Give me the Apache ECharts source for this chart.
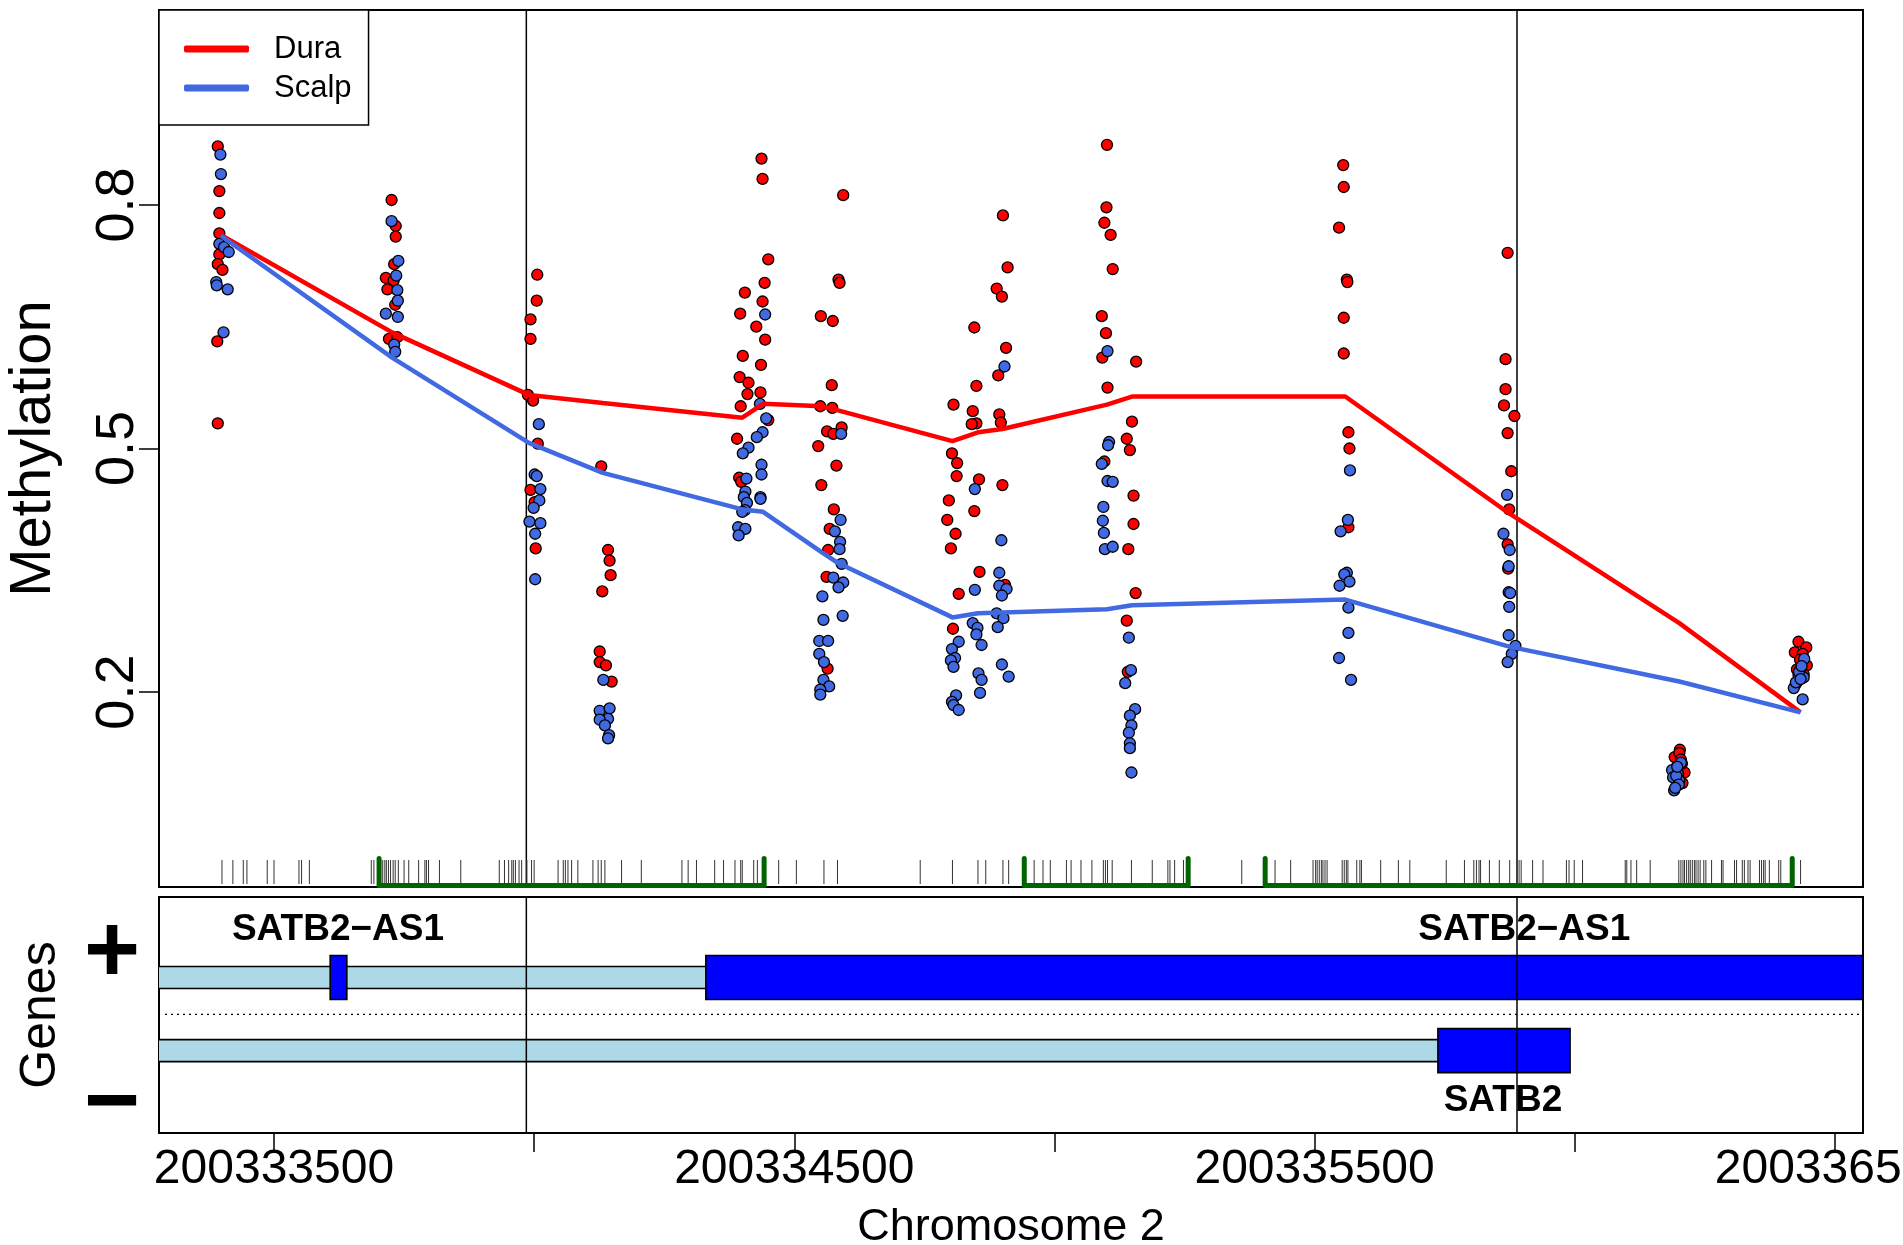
<!DOCTYPE html>
<html><head><meta charset="utf-8">
<script src="https://cdn.jsdelivr.net/npm/echarts@6/dist/echarts.min.js"></script>
<style>html,body{margin:0;padding:0;background:#fff}#c{width:1903px;height:1245px}</style>
</head><body><div id="c"></div>
<script>
// ---------------- data ----------------
const X_MIN = 200333279, X_MAX = 200336554;
const xTickValues = [200333500, 200334000, 200334500, 200335000, 200335500, 200336000, 200336500];
const xLabelValues = [200333500, 200334500, 200335500, 200336500];
const yTickValues = [0.2, 0.5, 0.8];

// CpG positions carrying the smoothed lines
const cpgPositions = [200333398, 200333727, 200333990, 200334132, 200334400, 200334440, 200334553, 200334584,
  200334804, 200334853, 200334900, 200335101, 200335149, 200335559, 200335874, 200336201, 200336434];
const duraSmooth  = [0.763, 0.643, 0.566, 0.556, 0.538, 0.555, 0.552, 0.547, 0.509, 0.520, 0.524, 0.554, 0.564, 0.564, 0.420, 0.285, 0.175];
const scalpSmooth = [0.762, 0.612, 0.507, 0.470, 0.425, 0.422, 0.372, 0.359, 0.292, 0.297, 0.298, 0.302, 0.307, 0.314, 0.256, 0.213, 0.175];

// individual samples [position, methylation]
const duraPoints = [
 [200333392,0.872],[200333395,0.817],[200333395,0.790],[200333395,0.765],[200333395,0.739],[200333392,0.727],[200333401,0.720],[200333391,0.632],[200333392,0.531],
 [200333726,0.806],[200333734,0.774],[200333734,0.761],[200333731,0.727],[200333715,0.710],[200333730,0.707],[200333718,0.696],[200333733,0.677],[200333721,0.635],[200333737,0.637],
 [200334006,0.714],[200334005,0.682],[200333993,0.659],[200333993,0.635],[200333988,0.566],[200333998,0.559],[200334007,0.506],[200333993,0.449],[200334001,0.434],[200334003,0.377],
 [200334129,0.478],[200334142,0.375],[200334145,0.362],[200334147,0.344],[200334131,0.324],[200334126,0.250],[200334126,0.237],[200334138,0.233],[200334149,0.213],
 [200334405,0.692],[200334396,0.666],[200334401,0.614],[200334395,0.588],[200334412,0.581],[200334410,0.567],[200334397,0.552],[200334390,0.512],[200334394,0.464],[200334398,0.459],
 [200334437,0.857],[200334439,0.832],[200334450,0.733],[200334443,0.704],[200334439,0.681],[200334427,0.650],[200334444,0.634],[200334436,0.603],[200334435,0.569],[200334450,0.535],
 [200334551,0.663],[200334550,0.552],[200334563,0.521],[200334546,0.503],[200334552,0.455],[200334568,0.401],[200334565,0.375],[200334562,0.342],[200334564,0.229],
 [200334594,0.812],[200334585,0.708],[200334587,0.704],[200334574,0.657],[200334572,0.578],[200334573,0.550],[200334575,0.518],[200334591,0.526],[200334581,0.479],[200334576,0.425],
 [200334806,0.554],[200334803,0.494],[200334813,0.482],[200334812,0.466],[200334797,0.436],[200334794,0.412],[200334810,0.395],[200334801,0.377],[200334816,0.321],[200334805,0.278],
 [200334846,0.649],[200334850,0.577],[200334843,0.546],[200334850,0.531],[200334841,0.530],[200334855,0.462],[200334846,0.423],[200334856,0.348],
 [200334901,0.787],[200334910,0.723],[200334889,0.697],[200334899,0.687],[200334907,0.624],[200334892,0.590],[200334894,0.542],[200334897,0.532],[200334900,0.455],[200334905,0.332],
 [200335101,0.874],[200335100,0.797],[200335096,0.778],[200335108,0.763],[200335112,0.721],[200335091,0.663],[200335099,0.642],[200335092,0.612],[200335102,0.575],[200335096,0.484],
 [200335157,0.607],[200335149,0.533],[200335139,0.512],[200335145,0.498],[200335152,0.442],[200335152,0.407],[200335142,0.376],[200335156,0.322],[200335139,0.288],[200335141,0.225],
 [200335555,0.849],[200335556,0.822],[200335547,0.772],[200335562,0.708],[200335563,0.705],[200335556,0.661],[200335556,0.617],[200335565,0.520],[200335567,0.500],[200335565,0.403],
 [200335871,0.741],[200335867,0.610],[200335867,0.573],[200335864,0.553],[200335884,0.540],[200335871,0.519],[200335878,0.472],[200335874,0.425],[200335871,0.382],[200335872,0.352],
 [200336202,0.129],[200336192,0.120],[200336201,0.125],[200336211,0.101],[200336207,0.088],[200336200,0.093],[200336196,0.108],[200336204,0.117],[200336206,0.112],[200336198,0.098],
 [200336430,0.262],[200336445,0.255],[200336423,0.249],[200336438,0.247],[200336446,0.233],[200336427,0.228],[200336429,0.214],[200336425,0.210],[200336433,0.240],[200336440,0.222]
];
const scalpPoints = [
 [200333397,0.862],[200333398,0.838],[200333395,0.752],[200333404,0.748],[200333413,0.742],[200333389,0.705],[200333390,0.701],[200333411,0.696],[200333403,0.643],
 [200333726,0.780],[200333739,0.731],[200333735,0.713],[200333737,0.695],[200333738,0.682],[200333715,0.666],[200333738,0.662],[200333731,0.628],[200333733,0.619],
 [200334009,0.530],[200334001,0.468],[200334005,0.466],[200334012,0.450],[200334010,0.436],[200333999,0.427],[200333991,0.410],[200334012,0.408],[200334002,0.395],[200334002,0.339],
 [200334133,0.215],[200334126,0.177],[200334145,0.180],[200334142,0.167],[200334126,0.166],[200334136,0.159],[200334144,0.147],[200334142,0.143],
 [200334412,0.501],[200334401,0.494],[200334408,0.463],[200334406,0.447],[200334403,0.440],[200334409,0.433],[200334405,0.424],[200334400,0.422],[200334392,0.403],[200334406,0.401],[200334393,0.393],
 [200334444,0.665],[200334434,0.555],[200334446,0.537],[200334439,0.520],[200334428,0.514],[200334437,0.480],[200334437,0.468],[200334435,0.440],[200334435,0.438],
 [200334554,0.318],[200334556,0.289],[200334548,0.263],[200334565,0.263],[200334548,0.247],[200334557,0.237],[200334556,0.215],[200334567,0.207],[200334550,0.203],[200334550,0.197],
 [200334590,0.518],[200334589,0.412],[200334578,0.398],[200334588,0.385],[200334587,0.376],[200334591,0.358],[200334575,0.341],[200334594,0.335],[200334585,0.329],[200334593,0.294],
 [200334816,0.262],[200334803,0.253],[200334809,0.242],[200334801,0.239],[200334806,0.231],[200334811,0.196],[200334803,0.188],[200334806,0.184],[200334816,0.178],
 [200334847,0.450],[200334847,0.326],[200334843,0.285],[200334852,0.279],[200334850,0.271],[200334860,0.258],[200334854,0.223],[200334860,0.215],[200334857,0.199],
 [200334904,0.601],[200334898,0.387],[200334894,0.347],[200334894,0.331],[200334908,0.327],[200334899,0.319],[200334889,0.297],[200334902,0.291],[200334891,0.280],[200334899,0.234],[200334912,0.219],
 [200335102,0.620],[200335105,0.508],[200335103,0.504],[200335091,0.481],[200335102,0.460],[200335112,0.459],[200335094,0.428],[200335093,0.411],[200335095,0.396],[200335097,0.376],[200335112,0.379],
 [200335143,0.267],[200335147,0.227],[200335136,0.211],[200335155,0.179],[200335145,0.171],[200335148,0.159],[200335143,0.150],[200335145,0.137],[200335145,0.131],[200335148,0.101],
 [200335568,0.473],[200335564,0.412],[200335550,0.398],[200335562,0.347],[200335557,0.345],[200335567,0.336],[200335548,0.331],[200335565,0.304],[200335565,0.273],[200335547,0.242],[200335570,0.215],
 [200335870,0.443],[200335863,0.395],[200335875,0.375],[200335873,0.355],[200335873,0.323],[200335876,0.322],[200335874,0.305],[200335873,0.270],[200335886,0.257],[200335879,0.247],[200335871,0.237],
 [200336204,0.113],[200336187,0.104],[200336189,0.095],[200336201,0.091],[200336191,0.079],[200336198,0.100],[200336195,0.097],[200336200,0.086],[200336197,0.108],[200336193,0.082],
 [200336441,0.241],[200336433,0.228],[200336430,0.221],[200336440,0.218],[200336421,0.205],[200336438,0.191],[200336425,0.212],[200336431,0.225],[200336436,0.232],[200336434,0.216]
];

// all CpG sites in the region (rug)
const rugSites = [200333400,200333421,200333441,200333448,200333487,200333500,200333548,200333553,200333568,200333687,200333692,200333705,200333709,200333713,200333716,200333720,200333724,200333729,200333733,200333739,200333750,200333759,200333778,200333790,200333793,200333797,200333818,200333859,200333933,200333943,200333951,200333957,200333960,200333964,200333971,200333976,200333986,200333995,200334000,200334046,200334056,200334060,200334065,200334072,200334084,200334113,200334123,200334129,200334136,200334168,200334206,200334284,200334296,200334312,200334347,200334364,200334386,200334397,200334400,200334422,200334429,200334440,200334470,200334504,200334557,200334583,200334742,200334804,200334853,200334868,200334901,200334912,200334961,200334978,200334992,200335023,200335032,200335051,200335072,200335094,200335098,200335102,200335111,200335148,200335188,200335218,200335222,200335231,200335248,200335360,200335424,200335454,200335497,200335502,200335505,200335509,200335513,200335516,200335520,200335524,200335553,200335557,200335561,200335564,200335581,200335587,200335590,200335627,200335661,200335683,200335753,200335788,200335806,200335811,200335816,200335819,200335836,200335855,200335875,200335893,200335897,200335919,200335939,200335984,200335989,200335999,200336015,200336097,200336100,200336108,200336119,200336145,200336200,200336204,200336208,200336211,200336215,200336219,200336222,200336226,200336230,200336233,200336237,200336241,200336248,200336252,200336263,200336282,200336285,200336307,200336311,200336322,200336326,200336333,200336337,200336355,200336359,200336363,200336366,200336374,200336392,200336396,200336434];

// CpG islands
const islandStart = [200333702, 200334942, 200335405];
const islandEnd   = [200334442, 200335257, 200336418];

// region boundaries
const regionBounds = [200333985, 200335889];

// gene models
const txStart  = [200333000, 200333000];
const txEnd    = [200337000, 200335991];
const txStrand = ['+', '-'];
const exonStart  = [200333608, 200334330, 200335737];
const exonEnd    = [200333640, 200337000, 200335991];
const exonStrand = ['+', '+', '-'];
const geneLabelText   = ['SATB2\u2212AS1', 'SATB2\u2212AS1', 'SATB2'];
const geneLabelPos    = [200333623, 200335903, 200335862];
const geneLabelStrand = ['+', '+', '-'];

// ---------------- styling ----------------
const DURA = '#FF0000', SCALP = '#4169E1';
const FONT = '"Liberation Sans", Arial, Helvetica, sans-serif';
const STRAND_Y = {'+': 0.659, '-': 0.349};
const LABEL_Y = {'+': 0.859, '-': 0.138};
const SIGN_Y = {'+': 0.752, '-': 0.117};

const chart = echarts.init(document.getElementById('c'), null, {renderer: 'canvas'});

function clampX(cs, x) { return Math.max(cs.x, Math.min(cs.x + cs.width, x)); }

const option = {
  animation: false,
  backgroundColor: '#fff',
  textStyle: {fontFamily: FONT, color: '#000'},
  grid: [
    {left: 159, top: 10, width: 1704, height: 877, show: true, borderColor: '#000', borderWidth: 2,
     backgroundColor: 'transparent', containLabel: false, outerBoundsMode: 'none'},
    {left: 159, top: 897, width: 1704, height: 236, show: true, borderColor: '#000', borderWidth: 2,
     backgroundColor: 'transparent', containLabel: false, outerBoundsMode: 'none'}
  ],
  legend: {
    data: ['Dura', 'Scalp'],
    orient: 'vertical', left: 159, top: 10,
    padding: [23, 17, 21, 25],
    borderColor: '#000', borderWidth: 1.5, backgroundColor: '#fff',
    icon: 'roundRect', itemWidth: 65, itemHeight: 7, itemGap: 7,
    textStyle: {fontSize: 31, color: '#000', fontFamily: FONT, lineHeight: 32, padding: [0, 0, 0, 20]},
    selectedMode: false, z: 20
  },
  xAxis: [
    {gridIndex: 0, type: 'value', min: X_MIN, max: X_MAX,
     axisLine: {show: false}, axisTick: {show: false}, axisLabel: {show: false}, splitLine: {show: false}},
    {gridIndex: 1, type: 'value', min: X_MIN, max: X_MAX,
     axisLine: {show: false}, splitLine: {show: false},
     axisTick: {show: true, length: 19, customValues: xTickValues, lineStyle: {color: '#000', width: 1.5}},
     axisLabel: {show: true, customValues: xLabelValues, fontSize: 48, color: '#000', margin: 13, fontFamily: FONT,
                 formatter: v => String(v)},
     name: 'Chromosome 2', nameLocation: 'middle', nameGap: 72,
     nameTextStyle: {fontSize: 45, color: '#000', fontFamily: FONT}}
  ],
  yAxis: [
    {gridIndex: 0, type: 'value', min: -0.04, max: 1.04,
     axisLine: {show: false}, splitLine: {show: false},
     axisTick: {show: true, length: 20, customValues: yTickValues, lineStyle: {color: '#000', width: 1.5}},
     axisLabel: {show: true, customValues: yTickValues, rotate: 90, fontSize: 54, color: '#000', margin: 14, fontFamily: FONT,
                 formatter: v => v.toFixed(1)},
     name: 'Methylation', nameLocation: 'middle', nameRotate: 90, nameGap: 96,
     nameTextStyle: {fontSize: 58, color: '#000', fontFamily: FONT}},
    {gridIndex: 1, type: 'value', min: 0, max: 1,
     axisLine: {show: false}, splitLine: {show: false}, axisTick: {show: false},
     axisLabel: {show: true, customValues: [SIGN_Y['+'], SIGN_Y['-']], fontSize: 96, fontWeight: 'bold', color: '#000', margin: 19,
                 fontFamily: FONT, formatter: v => (v > 0.5 ? '+' : '\u2212')},
     name: 'Genes', nameLocation: 'middle', nameRotate: 90, nameGap: 93,
     nameTextStyle: {fontSize: 50, color: '#000', fontFamily: FONT}}
  ],
  series: [
    // CpG rug
    {type: 'custom', xAxisIndex: 0, yAxisIndex: 0, silent: true, z: 3,
     data: rugSites.map(v => [v, 0]), encode: {x: 0, y: 1},
     renderItem: (params, api) => {
       const cs = params.coordSys;
       const x = api.coord([api.value(0), 0])[0];
       const yb = cs.y + cs.height;
       return {type: 'line', shape: {x1: x, y1: yb - 3, x2: x, y2: yb - 27}, style: {stroke: '#333', lineWidth: 1}};
     }},
    // CpG islands
    {type: 'custom', xAxisIndex: 0, yAxisIndex: 0, silent: true, z: 4,
     data: islandStart.map((s, i) => [s, islandEnd[i], 0]), encode: {x: [0, 1], y: 2},
     renderItem: (params, api) => {
       const cs = params.coordSys;
       const x1 = api.coord([api.value(0), 0])[0];
       const x2 = api.coord([api.value(1), 0])[0];
       const yb = cs.y + cs.height - 1.5, yt = yb - 27;
       return {type: 'polyline', shape: {points: [[x1, yt], [x1, yb], [x2, yb], [x2, yt]]},
               style: {stroke: '#006400', lineWidth: 5, fill: null, lineJoin: 'round', lineCap: 'round'}};
     }},
    // region boundaries (top panel)
    {type: 'custom', xAxisIndex: 0, yAxisIndex: 0, silent: true, z: 2,
     data: regionBounds.map(v => [v, 0]), encode: {x: 0, y: 1},
     renderItem: (params, api) => {
       const cs = params.coordSys;
       const x = api.coord([api.value(0), 0])[0];
       return {type: 'line', shape: {x1: x, y1: cs.y, x2: x, y2: cs.y + cs.height}, style: {stroke: '#000', lineWidth: 1.5}};
     }},
    // samples
    {name: 'Dura samples', type: 'scatter', xAxisIndex: 0, yAxisIndex: 0, data: duraPoints, symbol: 'circle', symbolSize: 11,
     itemStyle: {color: DURA, borderColor: '#000', borderWidth: 1.3, opacity: 1}, z: 5, silent: true},
    {name: 'Scalp samples', type: 'scatter', xAxisIndex: 0, yAxisIndex: 0, data: scalpPoints, symbol: 'circle', symbolSize: 11,
     itemStyle: {color: SCALP, borderColor: '#000', borderWidth: 1.3, opacity: 1}, z: 6, silent: true},
    // smoothed lines
    {name: 'Dura', type: 'line', xAxisIndex: 0, yAxisIndex: 0, data: cpgPositions.map((p, i) => [p, duraSmooth[i]]),
     showSymbol: false, lineStyle: {color: DURA, width: 4.5}, itemStyle: {color: DURA}, z: 8, silent: true},
    {name: 'Scalp', type: 'line', xAxisIndex: 0, yAxisIndex: 0, data: cpgPositions.map((p, i) => [p, scalpSmooth[i]]),
     showSymbol: false, lineStyle: {color: SCALP, width: 4.5}, itemStyle: {color: SCALP}, z: 8, silent: true},
    // gene panel: strand separator
    {type: 'custom', xAxisIndex: 1, yAxisIndex: 1, silent: true, z: 2,
     data: [[X_MIN, 0.5]], encode: {x: 0, y: 1},
     renderItem: (params, api) => {
       const cs = params.coordSys;
       const y = api.coord([X_MIN, 0.503])[1];
       return {type: 'line', shape: {x1: cs.x + 6, y1: y, x2: cs.x + cs.width, y2: y},
               style: {stroke: '#000', lineWidth: 1.2, lineDash: [2, 4]}};
     }},
    // transcripts
    {type: 'custom', xAxisIndex: 1, yAxisIndex: 1, silent: true, z: 3,
     data: txStart.map((s, i) => [s, txEnd[i], txStrand[i] === '+' ? 1 : 0]), encode: {x: [0, 1], y: 2},
     renderItem: (params, api) => {
       const cs = params.coordSys;
       const x1 = clampX(cs, api.coord([api.value(0), 0])[0]);
       const x2 = clampX(cs, api.coord([api.value(1), 0])[0]);
       const yc = api.coord([X_MIN, STRAND_Y[api.value(2) === 1 ? '+' : '-']])[1];
       const h = 11;
       return {type: 'group', children: [
         {type: 'rect', shape: {x: x1, y: yc - h, width: x2 - x1, height: 2 * h}, style: {fill: '#ADD8E6'}},
         {type: 'line', shape: {x1: x1, y1: yc - h, x2: x2, y2: yc - h}, style: {stroke: '#000', lineWidth: 1.6}},
         {type: 'line', shape: {x1: x1, y1: yc + h, x2: x2, y2: yc + h}, style: {stroke: '#000', lineWidth: 1.6}}
       ]};
     }},
    // exons
    {type: 'custom', xAxisIndex: 1, yAxisIndex: 1, silent: true, z: 4,
     data: exonStart.map((s, i) => [s, exonEnd[i], exonStrand[i] === '+' ? 1 : 0]), encode: {x: [0, 1], y: 2},
     renderItem: (params, api) => {
       const cs = params.coordSys;
       const x1 = clampX(cs, api.coord([api.value(0), 0])[0]);
       const x2 = clampX(cs, api.coord([api.value(1), 0])[0]);
       const yc = api.coord([X_MIN, STRAND_Y[api.value(2) === 1 ? '+' : '-']])[1];
       const h = 22;
       return {type: 'rect', shape: {x: x1, y: yc - h, width: x2 - x1, height: 2 * h},
               style: {fill: '#0000FF', stroke: '#000', lineWidth: 1.6}};
     }},
    // gene labels
    {type: 'custom', xAxisIndex: 1, yAxisIndex: 1, silent: true, z: 6,
     data: geneLabelPos.map((p, i) => [p, geneLabelStrand[i] === '+' ? 1 : 0, i]), encode: {x: 0, y: 1},
     renderItem: (params, api) => {
       const x = api.coord([api.value(0), 0])[0];
       const y = api.coord([X_MIN, LABEL_Y[api.value(1) === 1 ? '+' : '-']])[1];
       return {type: 'text', x: x, y: y,
               style: {text: geneLabelText[api.value(2)], fontSize: 37, fontWeight: 'bold', fontFamily: FONT,
                       fill: '#000', align: 'center', verticalAlign: 'middle'}};
     }},
    // region boundaries (gene panel)
    {type: 'custom', xAxisIndex: 1, yAxisIndex: 1, silent: true, z: 7,
     data: regionBounds.map(v => [v, 0]), encode: {x: 0, y: 1},
     renderItem: (params, api) => {
       const cs = params.coordSys;
       const x = api.coord([api.value(0), 0])[0];
       return {type: 'line', shape: {x1: x, y1: cs.y, x2: x, y2: cs.y + cs.height}, style: {stroke: '#000', lineWidth: 1.5}};
     }}
  ]
};
chart.setOption(option);
</script></body></html>
